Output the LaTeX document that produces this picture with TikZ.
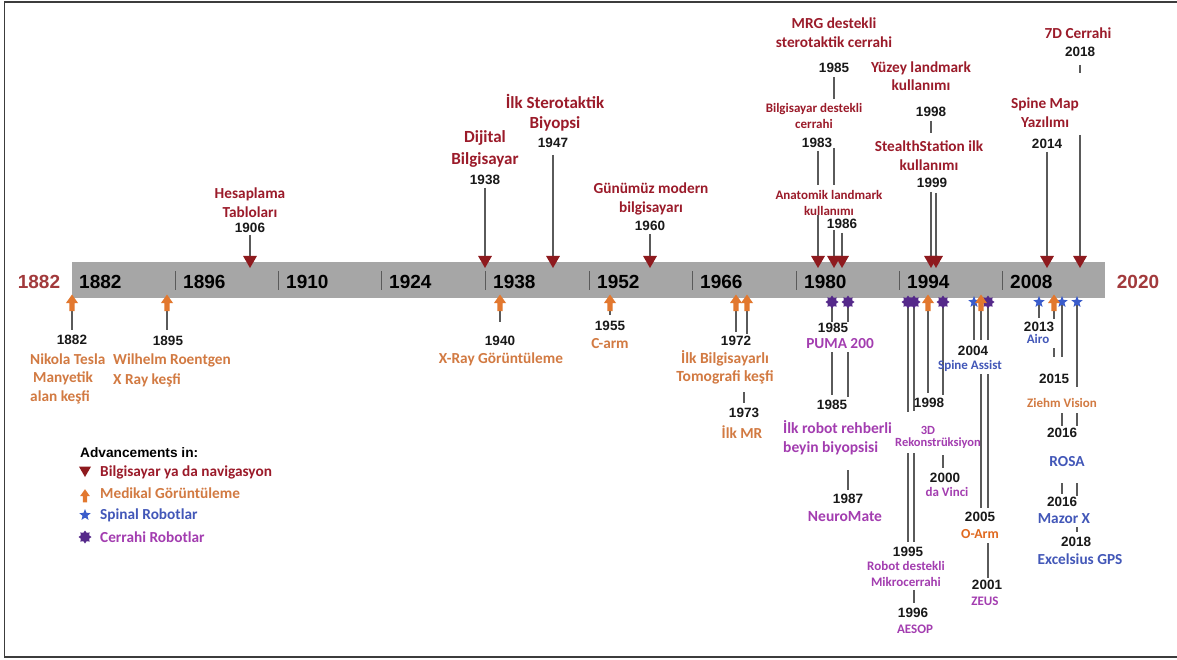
\documentclass[tikz,border=0pt]{standalone}
\usepackage{fontspec}
\setmainfont{Carlito}
\newfontfamily\arialf{Liberation Sans}
\usetikzlibrary{shapes.geometric}
\definecolor{navred}{HTML}{9B1B2A}
\definecolor{navtri}{HTML}{8E1A1E}
\definecolor{sidered}{HTML}{A23A3C}
\definecolor{imgorange}{HTML}{D27A42}
\definecolor{imgarrow}{HTML}{E2782F}
\definecolor{oarm}{HTML}{E0691F}
\definecolor{spiblue}{HTML}{4257B8}
\definecolor{starblue}{HTML}{3A5CCB}
\definecolor{surpurple}{HTML}{A33DB0}
\definecolor{starpurple}{HTML}{55298A}
\definecolor{bargray}{HTML}{A6A6A6}
\definecolor{linegray}{HTML}{5A5A5A}
\definecolor{framegray}{HTML}{3C3C3C}
\pgfdeclarelayer{back}
\pgfdeclarelayer{lines}
\pgfsetlayers{back,lines,main}
\newcommand\tlseg[3]{\begin{pgfonlayer}{lines}\draw[conn] (#1 |- 0,#2) -- (#1 |- 0,#3);\end{pgfonlayer}}
\begin{document}
\begin{tikzpicture}[x=1pt,y=-1pt,
  conn/.style={draw=linegray, line width=1.3pt},
  yr/.style={font=\arialf\bfseries\fontsize{13.5}{15}\selectfont, inner sep=0pt, text=black!90},
  baryr/.style={font=\arialf\bfseries\fontsize{19}{20}\selectfont, inner sep=0pt, anchor=west, text=black},
  sideyr/.style={font=\arialf\bfseries\fontsize{19}{20}\selectfont, inner sep=0pt, text=sidered},
  fs/.style 2 args={font=\bfseries\fontsize{#1}{#2}\selectfont},
  lab/.style={inner sep=0pt, align=center},
  navtext/.style={lab, text=navred},
  imgtext/.style={lab, text=imgorange},
  spitext/.style={lab, text=spiblue},
  surtext/.style={lab, text=surpurple},
  navmark/.style={regular polygon, regular polygon sides=3, shape border rotate=180, fill=navtri, minimum size=16pt, inner sep=0pt},
  spimark/.style={star, star points=5, star point ratio=2.3, fill=starblue, minimum size=12pt, inner sep=0pt},
  surmark/.style={star, star points=8, star point ratio=1.45, fill=starpurple, minimum size=13pt, inner sep=0pt},
  uparr/.pic={\fill[imgarrow] (-6,0) -- (0,-8.5) -- (6,0) -- (2.6,0) -- (2.6,8) -- (-2.6,8) -- (-2.6,0) -- cycle;},
  tick/.style={draw=linegray, line width=1pt}
]
\useasboundingbox (0,0) rectangle (1177,660);
\begin{pgfonlayer}{back}
\fill[white] (0,0) rectangle (1177,660);
\fill[bargray] (72,262) rectangle (1105,298);
\end{pgfonlayer}
\draw[framegray, line width=1.5pt] (1178,2) -- (4.5,2) -- (4.5,657) -- (1178,657);

% bar
\foreach \tx in {175,278,381,485,589,692,796,899,1002} \draw[tick] (\tx,271) -- (\tx,290);
\node[baryr] (b1882) at (79,282) {1882};
\node[baryr] (b1896) at (183,282) {1896};
\node[baryr] (b1910) at (286,282) {1910};
\node[baryr] (b1924) at (389,282) {1924};
\node[baryr] (b1938) at (493,282) {1938};
\node[baryr] (b1952) at (597,282) {1952};
\node[baryr] (b1966) at (700,282) {1966};
\node[baryr] (b1980) at (804,282) {1980};
\node[baryr] (b1994) at (907,282) {1994};
\node[baryr] (b2008) at (1010,282) {2008};
\node[sideyr] (start) at (39,282) {1882};
\node[sideyr] (end) at (1138,282) {2020};

% navigation markers (above)
\node[navmark] (n1906) at (250,260) {};
\node[navmark] (n1938) at (485,260) {};
\node[navmark] (n1947) at (553,260) {};
\node[navmark] (n1960) at (650,260) {};
\node[navmark] (n1983) at (818,260) {};
\node[navmark] (n1985) at (834,260) {};
\node[navmark] (n1986) at (842,260) {};
\node[navmark] (n1998) at (931,260) {};
\node[navmark] (n1999) at (936,260) {};
\node[navmark] (n2014) at (1047,260) {};
\node[navmark] (n2018) at (1080,260) {};

% imaging markers (below)
\path (72,303) coordinate (i1882) pic {uparr};
\path (167,303) coordinate (i1895) pic {uparr};
\path (500,303) coordinate (i1940) pic {uparr};
\path (610,303) coordinate (i1955) pic {uparr};
\path (736,303) coordinate (i1972) pic {uparr};
\path (747,303) coordinate (i1973) pic {uparr};
\path (928,303) coordinate (i1998) pic {uparr};

% spinal robots
\node[spimark] (s2004) at (974,302) {};
\node[spimark] (s2013) at (1039,302) {};
\node[spimark] (s2016) at (1062,302) {};
\node[spimark] (s2018) at (1077,302) {};
% surgical robots
\node[surmark] (r1985) at (832,302) {};
\node[surmark] (r1987) at (848,302) {};
\node[surmark] (r1995) at (908,302) {};
\node[surmark] (r1996) at (914,302) {};
\node[surmark] (r2000) at (943,302) {};
\node[surmark] (r2001) at (988,302) {};
\path (981,303) coordinate (i2005) pic {uparr};
\path (1054,303) coordinate (i2015) pic {uparr};

% ---- labels above ----
\node[navtext, fs={15.3}{19}] (tHes) at (250,202.5) {Hesaplama\\Tabloları};
\node[yr] (y1906) at (250,228) {1906};
\node[navtext, fs={17}{22}] (tDij) at (485,149) {Dijital\\Bilgisayar};
\node[yr] (y1938) at (485,180) {1938};
\node[navtext, fs={17}{20}] (tSte) at (555,113) {İlk Sterotaktik\\Biyopsi};
\node[yr] (y1947) at (553,143) {1947};
\node[navtext, fs={15.3}{19}] (tGun) at (651,198.5) {Günümüz modern\\bilgisayarı};
\node[yr] (y1960) at (650,226) {1960};
\node[navtext, fs={15.3}{19}] (tMRG) at (834,32.5) {MRG destekli\\sterotaktik cerrahi};
\node[yr] (y1985a) at (834,68) {1985};
\node[navtext, fs={13}{16}] (tBil) at (814,116) {Bilgisayar destekli\\cerrahi};
\node[yr] (y1983) at (817,143) {1983};
\node[navtext, fs={13}{16}] (tAna) at (829,203) {Anatomik landmark\\kullanımı};
\node[yr] (y1986) at (842,224) {1986};
\node[navtext, fs={15.3}{18}] (tYuz) at (921,76) {Yüzey landmark\\kullanımı};
\node[yr] (y1998a) at (931,112) {1998};
\node[navtext, fs={15.3}{19}] (tSte2) at (929,155.5) {StealthStation ilk\\kullanımı};
\node[yr] (y1999) at (932,183) {1999};
\node[navtext, fs={15.3}{19}] (tSpi) at (1045,112.5) {Spine Map\\Yazılımı};
\node[yr] (y2014) at (1047,144) {2014};
\node[navtext, fs={15.3}{19}] (t7D) at (1078,33) {7D Cerrahi};
\node[yr] (y2018a) at (1080,52) {2018};

\tlseg{n1906}{235}{258}
\tlseg{n1938}{188}{258}
\tlseg{n1947}{155}{258}
\tlseg{n1960}{234}{258}
\tlseg{n1985}{77}{99}
\tlseg{n1983}{151}{185}
\tlseg{n1985}{148}{185}
\tlseg{n1983}{215}{258}
\tlseg{n1985}{230}{258}
\tlseg{n1986}{233}{258}
\tlseg{n1998}{121}{133}
\tlseg{n1998}{192}{258}
\tlseg{n1999}{193}{258}
\tlseg{n2014}{152}{258}
\tlseg{n2018}{65}{73}
\tlseg{n2018}{135}{258}

% ---- labels below ----
\node[yr] (y1882) at (72,340) {1882};
\node[imgtext, fs={15.3}{18.5}, align=left, anchor=west] (tTes) at (30,378.5) {Nikola Tesla\\\hspace{3pt}Manyetik\\alan keşfi};
\node[yr] (y1895) at (168,341) {1895};
\node[imgtext, fs={15.3}{20}, align=left, anchor=west] (tRoe) at (113,370) {Wilhelm Roentgen\\X Ray keşfi};
\node[yr] (y1940) at (500,341) {1940};
\node[imgtext, fs={15.3}{18}] (tXra) at (501,359) {X-Ray Görüntüleme};
\node[yr] (y1955) at (610,326) {1955};
\node[imgtext, fs={15.3}{18}] (tCar) at (610,344) {C-arm};
\node[yr] (y1972) at (736,341) {1972};
\node[imgtext, fs={15.5}{18}] (tTom) at (725,367) {İlk Bilgisayarlı\\Tomografi keşfi};
\node[yr] (y1973) at (744,413) {1973};
\node[imgtext, fs={15.3}{18}] (tMR) at (742,432) {İlk MR};

\node[yr] (y1985b) at (833,328) {1985};
\node[surtext, fs={15.3}{18}] (tPum) at (840,344) {PUMA 200};
\node[yr] (y1985c) at (832,405) {1985};
\node[surtext, fs={15.5}{19}, align=left, anchor=west] (tRob) at (783,437.5) {İlk robot rehberli\\beyin biyopsisi};
\node[yr] (y1987) at (848,499) {1987};
\node[surtext, fs={15.5}{18}] (tNeu) at (845,517) {NeuroMate};

\node[yr] (y1998b) at (929,403) {1998};
\node[surtext, fs={12.5}{15}] (t3D) at (928,430) {3D};
\node[surtext, fs={12.5}{15}] (tRek) at (938,443) {Rekonstrüksiyon};
\node[yr] (y2000) at (945,478) {2000};
\node[surtext, fs={13}{15}] (tVin) at (947,492) {da Vinci};
\node[yr] (y1995) at (908,552) {1995};
\node[surtext, fs={13}{16}] (tMik) at (906,574) {Robot destekli\\Mikrocerrahi};
\node[yr] (y1996) at (913,613) {1996};
\node[surtext, fs={13}{15}] (tAes) at (915,629) {AESOP};

\node[yr] (y2004) at (973,351) {2004};
\node[spitext, fs={13}{15}] (tSAs) at (970,366) {Spine Assist};
\node[yr] (y2005) at (980,517) {2005};
\node[lab, text=oarm, fs={13.8}{16}] (tOar) at (980,534) {O-Arm};
\node[yr] (y2001) at (987,585) {2001};
\node[surtext, fs={13}{15}] (tZeu) at (985,601) {ZEUS};

\node[yr] (y2013) at (1039,327) {2013};
\node[spitext, fs={13}{15}] (tAir) at (1038,339) {Airo};
\node[yr] (y2015) at (1054,379) {2015};
\node[imgtext, fs={13}{15}] (tZie) at (1062,403) {Ziehm Vision};
\node[yr] (y2016a) at (1062,433) {2016};
\node[spitext, fs={15.3}{18}] (tRos) at (1067,462) {ROSA};
\node[yr] (y2016b) at (1062,502) {2016};
\node[spitext, fs={15.3}{18}] (tMaz) at (1064,519) {Mazor X};
\node[yr] (y2018b) at (1076,542) {2018};
\node[spitext, fs={15.3}{18}] (tExc) at (1080,559) {Excelsius GPS};

\tlseg{i1882}{305}{330}
\tlseg{i1895}{305}{330}
\tlseg{i1940}{305}{322}
\tlseg{i1955}{305}{315}
\tlseg{i1972}{305}{332}
\tlseg{i1973}{305}{334}
\tlseg{y1973}{392}{403}
\tlseg{i1998}{305}{393}
\tlseg{i2005}{305}{340}
\tlseg{i2005}{374}{508}
\tlseg{i2015}{305}{319}
\tlseg{i2015}{348}{357}

\tlseg{s2004}{302}{340}
\tlseg{s2013}{302}{318}
\tlseg{s2016}{302}{357}
\tlseg{s2018}{302}{387}
\tlseg{s2016}{413}{426}
\tlseg{s2018}{413}{426}
\tlseg{s2016}{483}{494}
\tlseg{s2018}{483}{496}
\tlseg{s2018}{527}{532}

\tlseg{r1985}{302}{322}
\tlseg{r1987}{302}{322}
\tlseg{r1985}{352}{395}
\tlseg{r1987}{352}{397}
\tlseg{r1987}{470}{490}
\tlseg{r1995}{302}{412}
\tlseg{r1996}{302}{411}
\tlseg{r1995}{453}{542}
\tlseg{r1996}{453}{542}
\tlseg{r1996}{590}{603}
\tlseg{r2000}{302}{395}
\tlseg{r2000}{455}{468}
\tlseg{r2001}{302}{340}
\tlseg{r2001}{374}{508}
\tlseg{r2001}{543}{578}

% ---- legend ----
\node[inner sep=0pt, anchor=west, font=\arialf\bfseries\fontsize{13.7}{15}\selectfont] (legT) at (80,453) {Advancements in:};
\node[navmark, minimum size=14pt] (legN) at (85,470) {};
\node[navtext, fs={15.3}{18}, anchor=west] (legNt) at (100,472) {Bilgisayar ya da navigasyon};
\path (85,496) coordinate (legI) pic[scale=0.8] {uparr};
\node[imgtext, fs={15.3}{18}, anchor=west] (legIt) at (100,493) {Medikal Görüntüleme};
\node[spimark] (legS) at (85,515) {};
\node[spitext, fs={15.3}{18}, anchor=west] (legSt) at (100,515) {Spinal Robotlar};
\node[surmark] (legR) at (85,537) {};
\node[surtext, fs={15.3}{18}, anchor=west] (legRt) at (100,537) {Cerrahi Robotlar};
\end{tikzpicture}
\end{document}
